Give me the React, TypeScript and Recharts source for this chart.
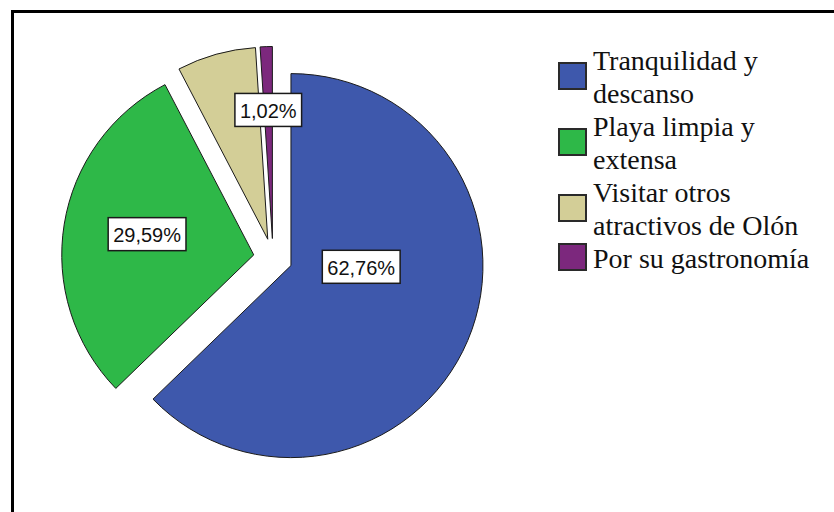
import React from 'react';
import { PieChart, Pie, Cell, Sector, Legend } from 'recharts';

const categories = [
  'Tranquilidad y descanso',
  'Playa limpia y extensa',
  'Visitar otros atractivos de Olón',
  'Por su gastronomía',
];
const percentages = [62.76, 29.59, 6.63, 1.02];
const colors = ['#3E58AC', '#2EB848', '#D3CE97', '#7C287D'];
const showLabel = [true, true, false, true];
const labelRadius = [0.366, 0.566, 0.5, 0.67];
const labelAngleShift = [22, -1.8, 0, 0];

const EXPLODE = 19.5;
const RAD = Math.PI / 180;
const LABEL_FONT = 20;

const data = categories.map((name, i) => ({ name, value: percentages[i], fill: colors[i] }));

const charW: Record<string, number> = { ',': 0.278, '%': 0.889, '.': 0.278 };
const textWidth = (t: string) =>
  t.split('').reduce((s, c) => s + (charW[c] !== undefined ? charW[c] : 0.556), 0) * LABEL_FONT;

function offset(midAngle: number) {
  return { dx: EXPLODE * Math.cos(midAngle * RAD), dy: -EXPLODE * Math.sin(midAngle * RAD) };
}

const ExplodedSector = (props: any) => {
  const { dx, dy } = offset(props.midAngle);
  return (
    <Sector
      cx={props.cx + dx}
      cy={props.cy + dy}
      innerRadius={props.innerRadius}
      outerRadius={props.outerRadius}
      startAngle={props.startAngle}
      endAngle={props.endAngle}
      fill={props.fill}
      stroke="#1a1a1a"
      strokeWidth={1}
    />
  );
};

const renderLabel = (props: any) => {
  const { cx, cy, midAngle, outerRadius, index, value } = props;
  if (!showLabel[index]) return null;
  const { dx, dy } = offset(midAngle);
  const a = (midAngle + labelAngleShift[index]) * RAD;
  const r = outerRadius * labelRadius[index];
  const x = cx + dx + r * Math.cos(a);
  const y = cy + dy - r * Math.sin(a);
  const text = Number(value).toFixed(2).replace('.', ',') + '%';
  const w = textWidth(text) + 10;
  const h = 33;
  return (
    <g>
      <rect x={x - w / 2} y={y - h / 2} width={w} height={h} fill="#ffffff" stroke="#1a1a1a" strokeWidth={1.5} />
      <text
        x={x}
        y={y + 1}
        textAnchor="middle"
        dominantBaseline="central"
        fontSize={LABEL_FONT}
        fontFamily="'Liberation Sans', Arial, sans-serif"
        fill="#111111"
      >
        {text}
      </text>
    </g>
  );
};

const LegendContent = () => (
  <div style={{ display: 'flex', flexDirection: 'column' }}>
    {categories.map((name, i) => (
      <div key={name} style={{ display: 'flex', alignItems: 'center' }}>
        <div
          style={{
            width: 25,
            height: 24,
            background: colors[i],
            border: '2px solid #2a2a2a',
            marginRight: 6,
            marginTop: -3,
            flex: 'none',
          }}
        />
        <div
          style={{
            width: 232,
            fontFamily: "'Liberation Serif', 'Times New Roman', serif",
            fontSize: 28,
            lineHeight: '33px',
            color: '#111111',
          }}
        >
          {name}
        </div>
      </div>
    ))}
  </div>
);

export default function App() {
  return (
    <div
      style={{
        position: 'fixed',
        left: 0,
        top: 0,
        width: 834,
        height: 512,
        overflow: 'hidden',
        background: '#ffffff',
      }}
    >
      <PieChart width={834} height={512} margin={{ top: 0, right: 0, bottom: 0, left: 0 }}>
        <Pie
          data={data}
          dataKey="value"
          nameKey="name"
          cx={273}
          cy={258}
          outerRadius={192}
          startAngle={90}
          endAngle={-270}
          isAnimationActive={false}
          labelLine={false}
          label={renderLabel}
          shape={ExplodedSector}
          stroke="#1a1a1a"
          strokeWidth={1}
        >
          {data.map((d, i) => (
            <Cell key={i} fill={colors[i]} />
          ))}
        </Pie>
        <Legend
          layout="vertical"
          align="right"
          verticalAlign="top"
          content={LegendContent}
          wrapperStyle={{ position: 'absolute', left: 558, top: 44, width: 270 }}
        />
      </PieChart>
      <div
        style={{
          position: 'absolute',
          left: 11,
          top: 10,
          width: 900,
          height: 600,
          borderLeft: '3px solid #000',
          borderTop: '3px solid #000',
          pointerEvents: 'none',
        }}
      />
    </div>
  );
}
